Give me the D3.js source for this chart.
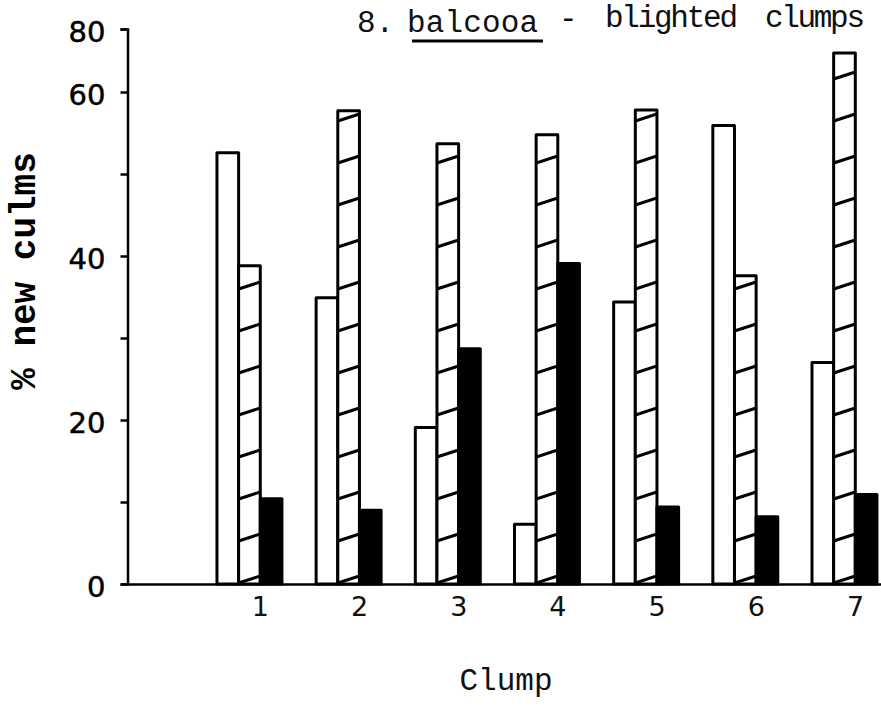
<!DOCTYPE html>
<html>
<head>
<meta charset="utf-8">
<script src="https://cdn.jsdelivr.net/npm/d3@7"></script>
<style>
  html, body { margin: 0; padding: 0; background: #fff; }
  svg { display: block; }
</style>
</head>
<body>
<svg id="chart" width="881" height="709"></svg>
<script>
// Clumps and the three culm series (% new culms)
const clumps = ["1", "2", "3", "4", "5", "6", "7"];
const series = ["open", "hatched", "solid"];
const openPct    = [52.6, 34.9, 19.1, 7.3, 34.4, 55.9, 27.0];
const hatchedPct = [38.8, 57.7, 53.7, 54.8, 57.8, 37.6, 72.4];
const solidPct   = [10.4, 9.0, 28.7, 39.1, 9.4, 8.2, 10.9];

// Axis ticks
const yTicks = [0, 10, 20, 30, 40, 50, 60, 80];
const yTickLabels = [0, 20, 40, 60, 80];

const rows = clumps.map((c, i) => ({
  clump: c,
  open: openPct[i],
  hatched: hatchedPct[i],
  solid: solidPct[i]
}));

const svg = d3.select("#chart");
svg.append("rect").attr("width", 881).attr("height", 709).attr("fill", "#fff");

// The printed axis runs evenly from 0 to 60, with 80 marked at its top end
const y = d3.scaleLinear().domain([0, 60, 80]).range([584, 92, 29]);

const x = d3.scaleBand()
  .domain(clumps)
  .range([127, 881])
  .paddingInner(0.345)
  .paddingOuter(0.474)
  .align(0.957);

const xs = d3.scaleBand().domain(series).range([0, x.bandwidth()]);

const ink = "#000";
const strokeW = 3;
const sansFont = "'DejaVu Sans', 'Liberation Sans', sans-serif";
const monoFont = "'Liberation Mono', 'DejaVu Sans Mono', monospace";

// Bars
const defs = svg.append("defs");
const barsG = svg.append("g");

rows.forEach((r, i) => {
  series.forEach(s => {
    const bx = x(r.clump) + xs(s);
    const bw = xs.bandwidth();
    const by = y(r[s]);
    const bh = y(0) - by;

    if (s === "hatched") {
      const id = "clip-h-" + i;
      defs.append("clipPath").attr("id", id)
        .append("rect").attr("x", bx).attr("y", by).attr("width", bw).attr("height", bh);
      barsG.append("rect")
        .attr("x", bx).attr("y", by).attr("width", bw).attr("height", bh)
        .attr("fill", "#fff");
      // diagonal hatching, rising to the right
      const hg = barsG.append("g").attr("clip-path", `url(#${id})`);
      const spacing = 42, rise = 7;
      for (let k = 0; ; k++) {
        const yl = y(0) - 1 - k * spacing;
        if (yl < by - 2) break;
        hg.append("line")
          .attr("x1", bx).attr("y1", yl)
          .attr("x2", bx + bw).attr("y2", yl - rise)
          .attr("stroke", ink).attr("stroke-width", strokeW);
      }
      barsG.append("rect")
        .attr("x", bx).attr("y", by).attr("width", bw).attr("height", bh)
        .attr("fill", "none").attr("stroke", ink).attr("stroke-width", strokeW)
        .attr("stroke-linejoin", "round");
    } else {
      barsG.append("rect")
        .attr("x", bx).attr("y", by).attr("width", bw).attr("height", bh)
        .attr("fill", s === "solid" ? ink : "#fff")
        .attr("stroke", ink).attr("stroke-width", strokeW)
        .attr("stroke-linejoin", "round");
    }
  });
});

// Y axis
const yAxis = d3.axisLeft(y)
  .tickValues(yTicks)
  .tickSize(7)
  .tickPadding(15)
  .tickFormat(d => yTickLabels.includes(d) ? String(d) : "");

const gy = svg.append("g").attr("transform", "translate(127.5,0)").call(yAxis);
gy.attr("font-family", sansFont).attr("font-size", 29);
gy.select(".domain").attr("stroke", ink).attr("stroke-width", 2.5);
gy.selectAll(".tick line").attr("stroke", ink).attr("stroke-width", 2.5);
gy.selectAll(".tick text")
  .attr("fill", ink)
  .attr("dy", "0.42em")
  .attr("stroke", ink)
  .attr("stroke-width", 0.5);

// X axis
const xAxis = d3.axisBottom(x).tickSize(0).tickPadding(13).tickSizeOuter(0);
const gx = svg.append("g").attr("transform", `translate(0,${y(0)})`).call(xAxis);
gx.attr("font-family", sansFont).attr("font-size", 27);
gx.select(".domain").attr("stroke", ink).attr("stroke-width", 2.5);
gx.selectAll(".tick text")
  .attr("fill", "#111")
  .attr("dx", 11);

// Axis titles
svg.append("text")
  .attr("transform", "translate(35,271) rotate(-90)")
  .attr("text-anchor", "middle")
  .attr("font-family", monoFont)
  .attr("font-weight", "bold")
  .attr("font-size", 36)
  .attr("fill", ink)
  .text("% new culms");

svg.append("text")
  .attr("x", 506).attr("y", 690)
  .attr("text-anchor", "middle")
  .attr("font-family", monoFont)
  .attr("font-size", 31)
  .attr("fill", "#111")
  .text("Clump");

// Title
const title = svg.append("g")
  .attr("font-family", monoFont)
  .attr("font-size", 31)
  .attr("fill", "#111");

title.append("text").attr("x", 357).attr("y", 32).text("8.");
title.append("text").attr("x", 407).attr("y", 32)
  .attr("textLength", 131).attr("lengthAdjust", "spacing").text("balcooa");
title.append("line")
  .attr("x1", 412).attr("x2", 543).attr("y1", 41).attr("y2", 41)
  .attr("stroke", ink).attr("stroke-width", 3);
title.append("text").attr("x", 559).attr("y", 28).text("-");
title.append("text").attr("x", 605).attr("y", 27)
  .attr("textLength", 133).attr("lengthAdjust", "spacing").text("blighted");
title.append("text").attr("x", 765).attr("y", 27)
  .attr("textLength", 100).attr("lengthAdjust", "spacing").text("clumps");
</script>
</body>
</html>
